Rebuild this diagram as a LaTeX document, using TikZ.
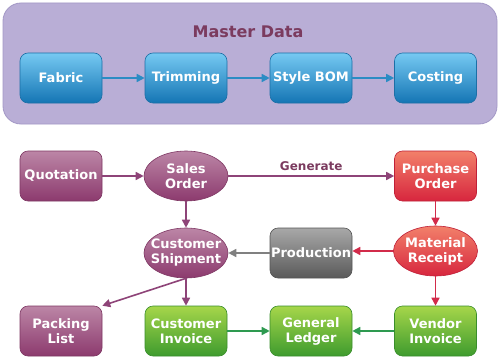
\documentclass[tikz,border=0pt]{standalone}
\usepackage{fontspec}
\setmainfont{DejaVu Sans}
\usetikzlibrary{shapes.geometric,arrows.meta}
\definecolor{panelfill}{HTML}{B9AED6}
\definecolor{paneldraw}{HTML}{A398C6}
\definecolor{titlecol}{HTML}{7B3B5F}
\definecolor{bluetop}{HTML}{76C9F2}
\definecolor{bluebot}{HTML}{1475B4}
\definecolor{bluedraw}{HTML}{1C6FA6}
\definecolor{bluearr}{HTML}{2B8CC4}
\definecolor{martop}{HTML}{BC86A6}
\definecolor{marbot}{HTML}{8C3A6E}
\definecolor{mardraw}{HTML}{7E3763}
\definecolor{marr}{HTML}{8E4478}
\definecolor{redtop}{HTML}{F2806A}
\definecolor{redbot}{HTML}{D7263E}
\definecolor{reddraw}{HTML}{C02038}
\definecolor{redarr}{HTML}{D22B4A}
\definecolor{graytop}{HTML}{A8A8A8}
\definecolor{graybot}{HTML}{5A5A5A}
\definecolor{graydraw}{HTML}{555555}
\definecolor{grayarr}{HTML}{808080}
\definecolor{greentop}{HTML}{A6D64A}
\definecolor{greenbot}{HTML}{3E9B2E}
\definecolor{greendraw}{HTML}{3A8E2C}
\definecolor{greenarr}{HTML}{2E9A50}
\begin{document}
\begin{tikzpicture}[x=1pt,y=-1pt,
  lbl/.style={text=white,align=center,font=\bfseries\fontsize{13}{15}\selectfont},
  boxbase/.style={lbl,rectangle,rounded corners=8pt,minimum width=82pt,minimum height=50pt,inner sep=0pt,line width=0.6pt},
  ellbase/.style={lbl,ellipse,minimum width=84pt,minimum height=50pt,inner xsep=-14pt,inner ysep=-8pt,line width=0.6pt},
  bluebox/.style={boxbase,top color=bluetop,bottom color=bluebot,draw=bluedraw},
  marbox/.style={boxbase,top color=martop,bottom color=marbot,draw=mardraw},
  marell/.style={ellbase,top color=martop,bottom color=marbot,draw=mardraw},
  redbox/.style={boxbase,top color=redtop,bottom color=redbot,draw=reddraw},
  redell/.style={ellbase,top color=redtop,bottom color=redbot,draw=reddraw},
  graybox/.style={boxbase,top color=graytop,bottom color=graybot,draw=graydraw},
  greenbox/.style={boxbase,top color=greentop,bottom color=greenbot,draw=greendraw},
  arr/.style={line width=1.6pt,-{Triangle[length=8pt,width=8pt]}},
]
\useasboundingbox (0,0) rectangle (500,361);
\fill[white] (0,0) rectangle (500,361);
\draw[fill=panelfill,draw=paneldraw,line width=0.8pt,rounded corners=18pt] (3,3) rectangle (497,124);
\node[text=titlecol,font=\bfseries\fontsize{16}{18}\selectfont] (title) at (248,32) {Master Data};

\node[bluebox] (fab) at (61,78) {Fabric};
\node[bluebox] (trim) at (186,78) {Trimming};
\node[bluebox] (bom) at (311,78) {Style BOM};
\node[bluebox] (cost) at (435.5,78) {Costing};

\node[marbox] (quo) at (61,176) {Quotation};
\node[marell] (so) at (186,176) {Sales\\Order};
\node[redbox] (po) at (435.5,176) {Purchase\\Order};
\node[marell] (cs) at (186,253) {Customer\\Shipment};
\node[graybox] (prod) at (311,253) {Production};
\node[redell] (mr) at (435.5,251) {Material\\Receipt};
\node[marbox] (pl) at (61,331) {Packing\\List};
\node[greenbox] (ci) at (186,331) {Customer\\Invoice};
\node[greenbox] (gl) at (311,331) {General\\Ledger};
\node[greenbox] (vi) at (435.5,331) {Vendor\\Invoice};

\draw[arr,bluearr] (fab) -- (trim);
\draw[arr,bluearr] (trim) -- (bom);
\draw[arr,bluearr] (bom) -- (cost);

\draw[arr,marr] (quo) -- (so);
\draw[arr,marr] (so) -- node[above=1pt,text=titlecol,font=\bfseries\fontsize{12}{14}\selectfont] (gen) {Generate} (po);
\draw[arr,marr] (so) -- (cs);
\draw[arr,marr] (cs.south) -- (pl.north east);
\draw[arr,marr] (cs) -- (ci);
\draw[arr,redarr] (po) -- (mr);
\draw[arr,redarr] (mr.west) -- (prod.east |- mr.west);
\draw[arr,grayarr] (prod) -- (cs);
\draw[arr,redarr] (mr) -- (vi);
\draw[arr,greenarr] (ci) -- (gl);
\draw[arr,greenarr] (vi) -- (gl);
\end{tikzpicture}
\end{document}
